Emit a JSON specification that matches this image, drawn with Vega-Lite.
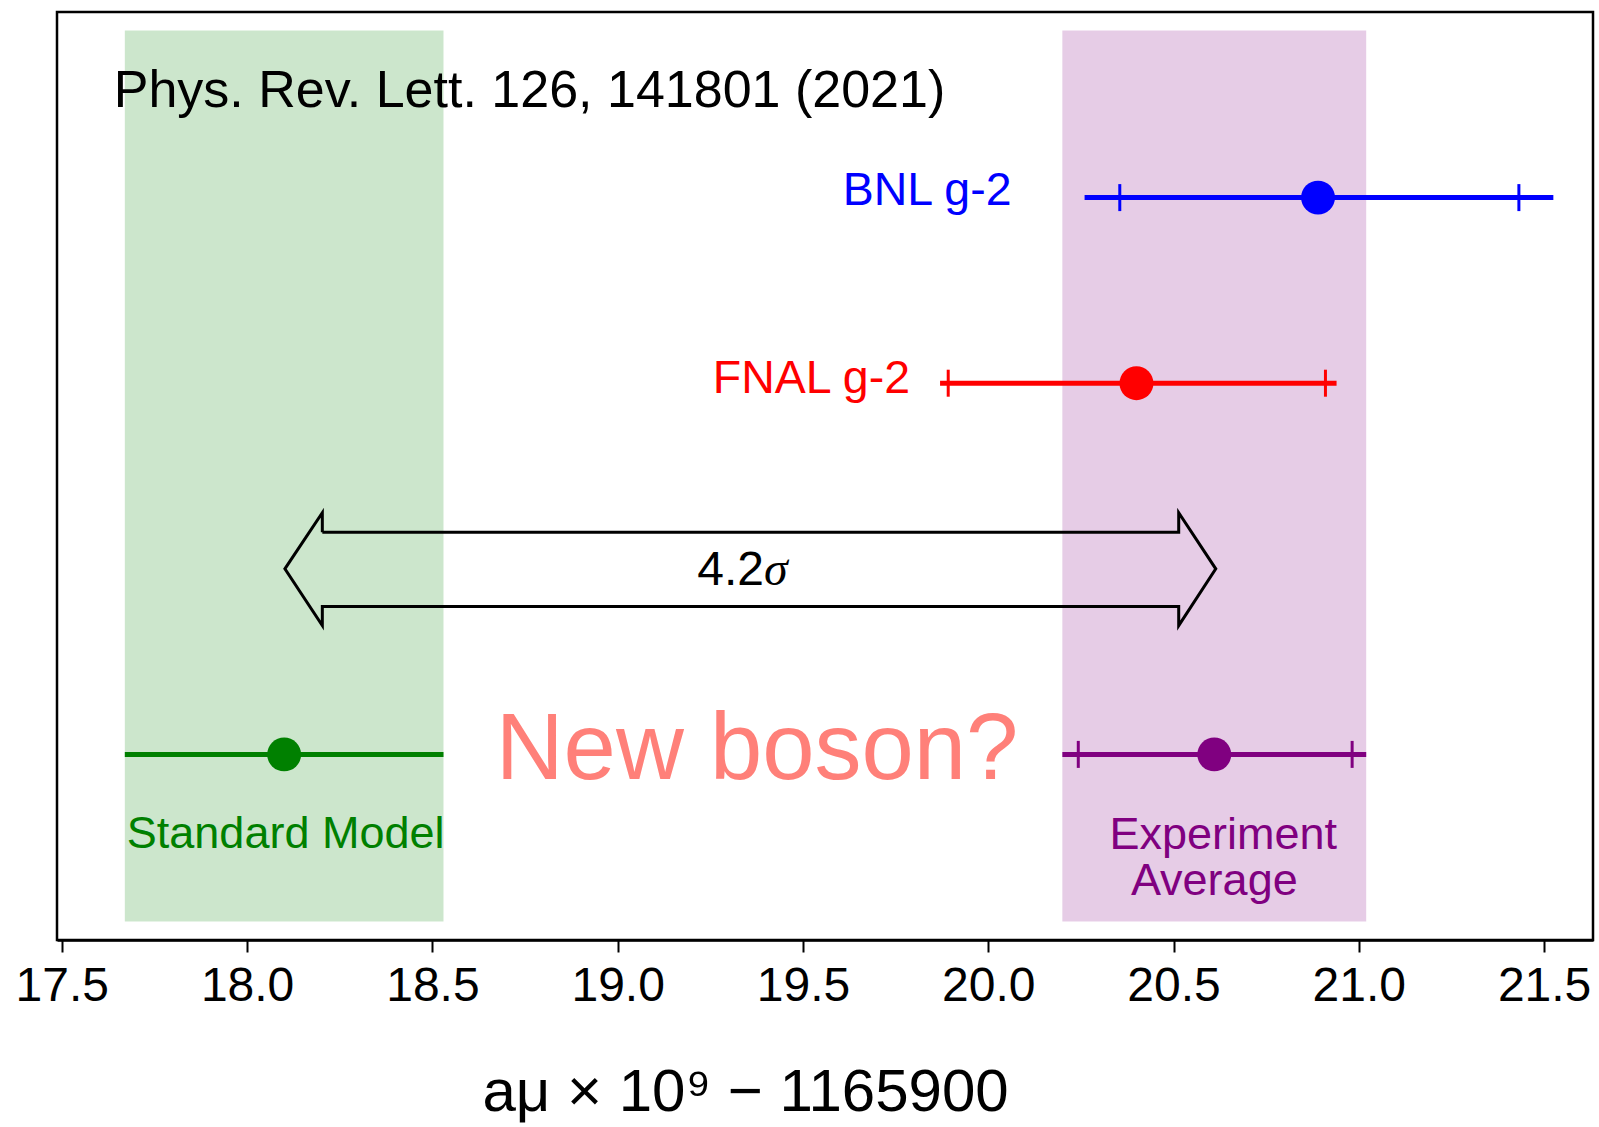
{
  "$schema": "https://vega.github.io/schema/vega-lite/v6.json",
  "width": 1536,
  "height": 928,
  "autosize": {"type": "none"},
  "padding": {"left": 57, "top": 12, "right": 6, "bottom": 187},
  "background": "white",
  "config": {
    "font": "Liberation Sans",
    "view": {"stroke": "black", "strokeWidth": 2.5},
    "axis": {"grid": false}
  },
  "datasets": {
    "bands": [
      {"series": "Standard Model", "lo": 17.67, "hi": 18.53, "ylo": 0.1, "yhi": 4.9},
      {"series": "Experiment Average", "lo": 20.2, "hi": 21.02, "ylo": 0.1, "yhi": 4.9}
    ],
    "measurements": [
      {"series": "BNL g-2", "center": 20.89, "lo": 20.26, "hi": 21.525, "row": 4},
      {"series": "FNAL g-2", "center": 20.4, "lo": 19.87, "hi": 20.94, "row": 3},
      {"series": "Standard Model", "center": 18.1, "lo": 17.67, "hi": 18.53, "row": 1},
      {"series": "Experiment Average", "center": 20.61, "lo": 20.2, "hi": 21.02, "row": 1}
    ],
    "statTicks": [
      {"series": "BNL g-2", "x": 20.355, "row": 4},
      {"series": "BNL g-2", "x": 21.432, "row": 4},
      {"series": "FNAL g-2", "x": 19.892, "row": 3},
      {"series": "FNAL g-2", "x": 20.91, "row": 3},
      {"series": "Experiment Average", "x": 20.243, "row": 1},
      {"series": "Experiment Average", "x": 20.982, "row": 1}
    ],
    "arrow": [
      {"order": 1, "x": 18.203, "y": 2.197},
      {"order": 2, "x": 20.514, "y": 2.197},
      {"order": 3, "x": 20.514, "y": 2.302},
      {"order": 4, "x": 20.614, "y": 2.0},
      {"order": 5, "x": 20.514, "y": 1.694},
      {"order": 6, "x": 20.514, "y": 1.797},
      {"order": 7, "x": 18.203, "y": 1.797},
      {"order": 8, "x": 18.203, "y": 1.694},
      {"order": 9, "x": 18.102, "y": 2.0},
      {"order": 10, "x": 18.203, "y": 2.302},
      {"order": 11, "x": 18.203, "y": 2.197}
    ],
    "titleText": [
      {"series": "note", "text": "Phys. Rev. Lett. 126, 141801 (2021)", "x": 17.64, "y": 4.49}
    ],
    "rowLabels": [
      {"series": "BNL g-2", "text": "BNL g-2", "x": 20.063, "y": 3.96},
      {"series": "FNAL g-2", "text": "FNAL g-2", "x": 19.789, "y": 2.946}
    ],
    "bottomLabels": [
      {"series": "Standard Model", "text": "Standard Model", "x": 18.104, "y": 0.496},
      {"series": "Experiment Average", "text": "Experiment", "x": 20.634, "y": 0.49},
      {"series": "Experiment Average", "text": "Average", "x": 20.61, "y": 0.24}
    ],
    "sigmaNumber": [
      {"series": "note", "text": "4.2", "x": 19.395, "y": 1.913}
    ],
    "sigmaSymbol": [
      {"series": "note", "text": "σ", "x": 19.395, "y": 1.913}
    ],
    "question": [
      {"series": "New boson?", "text": "New boson?", "x": 19.376, "y": 0.867}
    ]
  },
  "encoding": {
    "color": {
      "field": "series",
      "type": "nominal",
      "legend": null,
      "scale": {
        "domain": ["BNL g-2", "FNAL g-2", "Standard Model", "Experiment Average", "note", "New boson?"],
        "range": ["#0000ff", "#ff0000", "#008000", "#800080", "#000000", "#ff8079"]
      }
    }
  },
  "layer": [
    {
      "data": {"name": "bands"},
      "mark": {"type": "rect", "opacity": 0.2},
      "encoding": {
        "x": {
          "field": "lo", "type": "quantitative",
          "scale": {"domain": [17.487, 21.632], "nice": false, "zero": false},
          "axis": {
            "values": [17.5, 18.0, 18.5, 19.0, 19.5, 20.0, 20.5, 21.0, 21.5],
            "format": ".1f",
            "title": "aμ × 10⁹ − 1165900",
            "titleFont": "Liberation Sans",
            "titleFontSize": 60,
            "titleFontWeight": "normal",
            "titleColor": "black",
            "titlePadding": 53,
            "titleAnchor": "start",
            "titleAlign": "center",
            "titleX": 688,
            "labelFont": "Liberation Sans",
            "labelFontSize": 48,
            "labelColor": "black",
            "labelPadding": 10,
            "labelFlush": false,
            "labelOverlap": false,
            "tickColor": "black",
            "tickWidth": 2,
            "tickSize": 12,
            "domainColor": "black",
            "domainWidth": 2.5
          }
        },
        "x2": {"field": "hi"},
        "y": {
          "field": "ylo", "type": "quantitative",
          "scale": {"domain": [0, 5], "nice": false, "zero": false},
          "axis": null
        },
        "y2": {"field": "yhi"}
      }
    },
    {
      "data": {"name": "measurements"},
      "mark": {"type": "rule", "strokeWidth": 5},
      "encoding": {
        "x": {"field": "lo", "type": "quantitative"},
        "x2": {"field": "hi"},
        "y": {"field": "row", "type": "quantitative"}
      }
    },
    {
      "data": {"name": "statTicks"},
      "mark": {"type": "tick", "orient": "vertical", "size": 27, "thickness": 3, "opacity": 1},
      "encoding": {
        "x": {"field": "x", "type": "quantitative"},
        "y": {"field": "row", "type": "quantitative"}
      }
    },
    {
      "data": {"name": "arrow"},
      "mark": {"type": "line", "color": "black", "strokeWidth": 3, "strokeJoin": "miter"},
      "encoding": {
        "x": {"field": "x", "type": "quantitative"},
        "y": {"field": "y", "type": "quantitative"},
        "order": {"field": "order", "type": "quantitative"},
        "color": {"value": "black"}
      }
    },
    {
      "data": {"name": "measurements"},
      "mark": {"type": "point", "shape": "circle", "filled": true, "size": 1150, "opacity": 1},
      "encoding": {
        "x": {"field": "center", "type": "quantitative"},
        "y": {"field": "row", "type": "quantitative"}
      }
    },
    {
      "data": {"name": "titleText"},
      "mark": {"type": "text", "align": "left", "baseline": "alphabetic", "fontSize": 52, "font": "Liberation Sans"},
      "encoding": {
        "x": {"field": "x", "type": "quantitative"},
        "y": {"field": "y", "type": "quantitative"},
        "text": {"field": "text"}
      }
    },
    {
      "data": {"name": "rowLabels"},
      "mark": {"type": "text", "align": "right", "baseline": "alphabetic", "fontSize": 46.5, "font": "Liberation Sans"},
      "encoding": {
        "x": {"field": "x", "type": "quantitative"},
        "y": {"field": "y", "type": "quantitative"},
        "text": {"field": "text"}
      }
    },
    {
      "data": {"name": "bottomLabels"},
      "mark": {"type": "text", "align": "center", "baseline": "alphabetic", "fontSize": 45, "font": "Liberation Sans"},
      "encoding": {
        "x": {"field": "x", "type": "quantitative"},
        "y": {"field": "y", "type": "quantitative"},
        "text": {"field": "text"}
      }
    },
    {
      "data": {"name": "sigmaNumber"},
      "mark": {"type": "text", "align": "right", "baseline": "alphabetic", "fontSize": 48, "font": "Liberation Sans"},
      "encoding": {
        "x": {"field": "x", "type": "quantitative"},
        "y": {"field": "y", "type": "quantitative"},
        "text": {"field": "text"}
      }
    },
    {
      "data": {"name": "sigmaSymbol"},
      "mark": {"type": "text", "align": "left", "baseline": "alphabetic", "fontSize": 48, "fontStyle": "italic", "font": "Liberation Serif"},
      "encoding": {
        "x": {"field": "x", "type": "quantitative"},
        "y": {"field": "y", "type": "quantitative"},
        "text": {"field": "text"}
      }
    },
    {
      "data": {"name": "question"},
      "mark": {"type": "text", "align": "center", "baseline": "alphabetic", "fontSize": 94, "font": "Liberation Sans"},
      "encoding": {
        "x": {"field": "x", "type": "quantitative"},
        "y": {"field": "y", "type": "quantitative"},
        "text": {"field": "text"}
      }
    }
  ]
}
